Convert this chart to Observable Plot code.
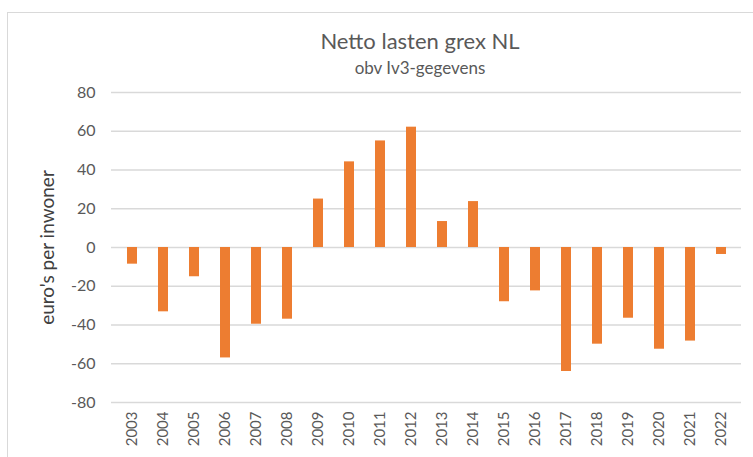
<!DOCTYPE html>
<html>
<head>
<meta charset="utf-8">
<script src="https://cdn.jsdelivr.net/npm/d3@7"></script>
<script src="https://cdn.jsdelivr.net/npm/@observablehq/plot@0.6"></script>
<style>
  body { margin: 0; background: #fff; }
  #wrap { position: relative; width: 753px; height: 457px; overflow: hidden; font-family: Lato, "Open Sans", sans-serif; }
  #frame { position: absolute; left: 7px; top: 12px; width: 800px; height: 500px; border-left: 1px solid #d9d9d9; border-top: 1px solid #d9d9d9; }
  #title { position: absolute; left: 0; width: 840px; top: 27px; text-align: center; font-size: 22px; color: #595959; }
  #subtitle { position: absolute; left: 0; width: 840px; top: 57px; text-align: center; font-size: 17px; color: #595959; }
  #chart { position: absolute; left: 0; top: 0; }
</style>
</head>
<body>
<div id="wrap">
  <div id="frame"></div>
  <div id="chart"></div>
  <div id="title">Netto lasten grex NL</div>
  <div id="subtitle">obv Iv3-gegevens</div>
</div>
<script>
const years = ["2003","2004","2005","2006","2007","2008","2009","2010","2011","2012","2013","2014","2015","2016","2017","2018","2019","2020","2021","2022"];
const values = [-8.6, -33.2, -15.1, -57, -39.6, -37, 25, 44.2, 55, 62.1, 13.4, 23.7, -28, -22.4, -64, -49.9, -36.5, -52.5, -48.3, -3.6];
const yTicks = [-80, -60, -40, -20, 0, 20, 40, 60, 80];
const yLabel = "euro's per inwoner";

const data = years.map((y, i) => ({year: y, value: values[i]}));

const chart = Plot.plot({
  width: 753,
  height: 457,
  marginLeft: 111,
  marginRight: 12,
  marginTop: 92,
  marginBottom: 55,
  style: { fontFamily: "Lato, 'Open Sans', sans-serif", background: "transparent", color: "#595959" },
  x: { domain: years, paddingInner: 0.68, paddingOuter: 0.34, align: 0.5 },
  y: { domain: [-80, 80] },
  marks: [
    Plot.ruleY(yTicks, { stroke: "#d9d9d9", strokeWidth: 1.5 }),
    Plot.barY(data, { x: "year", y: "value", fill: "#ED7D31" }),
    Plot.axisY({ ticks: yTicks, tickFormat: d => String(d), tickSize: 0, tickPadding: 16, fontSize: 16, label: null, fill: "#595959" }),
    Plot.text([yLabel], { frameAnchor: "left", textAnchor: "middle", dx: -64, rotate: -90, fontSize: 19, fill: "#404040" }),
    Plot.axisX({ tickSize: 0, tickPadding: 9, tickRotate: -90, fontSize: 15, label: null, fill: "#595959" })
  ]
});
document.getElementById("chart").appendChild(chart);
</script>
</body>
</html>
